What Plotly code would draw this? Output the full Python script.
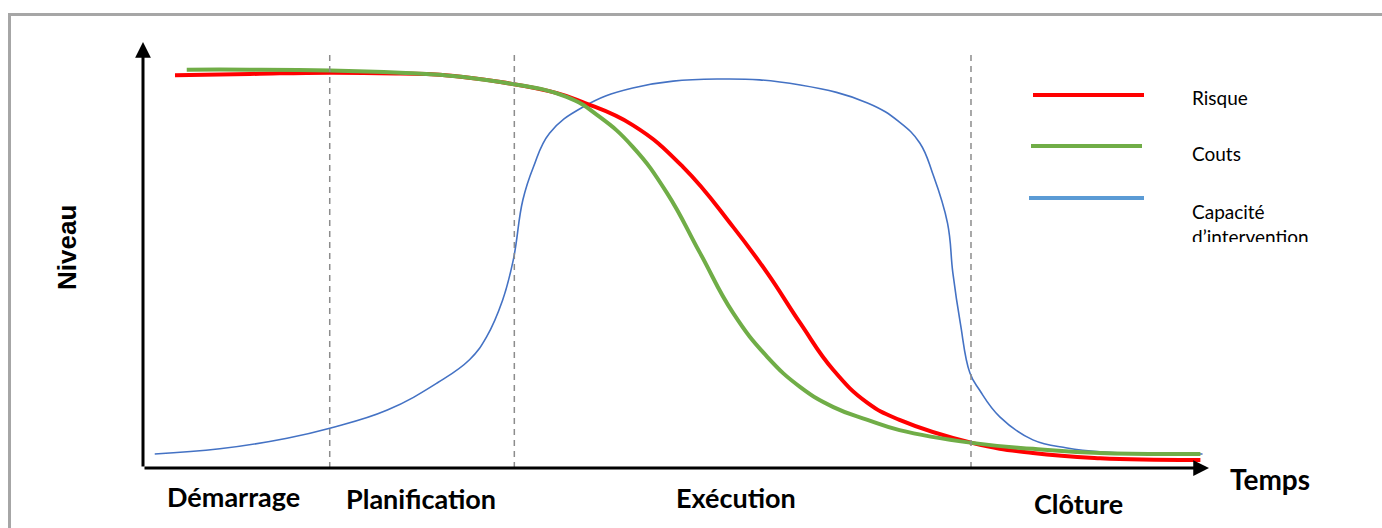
import plotly.graph_objects as go

# --- data -------------------------------------------------------------
# time (0..100) and level (0..100) readings for each curve
t_risque = [3.0, 10.0, 17.5, 24.1, 27.8, 33.5, 38.8, 41.2, 45.9, 50.6, 55.3,
            58.5, 61.6, 64.7, 67.9, 70.9, 77.7, 83.4, 89.7, 99.1]
risque = [92.2, 92.5, 92.8, 92.6, 92.3, 90.6, 88.0, 85.9, 80.5, 70.7, 56.6,
          45.8, 34.0, 23.0, 15.3, 11.3, 5.9, 3.5, 2.3, 1.9]

t_couts = [4.1, 10.0, 17.5, 24.1, 27.8, 33.5, 39.7, 42.8, 45.9, 49.1, 52.2,
           55.3, 58.5, 61.6, 64.7, 67.9, 70.9, 77.7, 83.4, 89.7, 99.1]
couts = [93.5, 93.5, 93.3, 92.8, 92.3, 90.6, 87.1, 82.4, 75.4, 64.6, 50.5,
         36.4, 26.1, 19.0, 14.3, 11.3, 8.9, 5.9, 4.5, 3.5, 3.3]

t_capacite = [1.1, 7.2, 13.5, 17.6, 22.9, 27.6, 30.6, 32.2, 33.7, 34.7, 35.6,
              36.6, 38.1, 41.2, 45.9, 53.8, 61.6, 67.9, 70.9, 72.8, 74.0,
              75.4, 75.9, 76.6, 77.5, 78.4, 80.3, 83.4, 86.6, 89.7, 99.3]
capacite = [3.3, 4.5, 7.0, 9.4, 13.6, 20.0, 25.4, 30.8, 39.4, 48.8, 62.9,
            70.7, 78.6, 84.7, 89.2, 91.3, 89.9, 85.7, 81.2, 76.3, 69.2,
            57.5, 45.8, 34.0, 22.3, 18.3, 12.0, 6.6, 4.7, 3.8, 3.3]

phase_bounds = [17.5, 34.8, 77.6]
phases = ["Démarrage", "Planification", "Exécution", "Clôture"]
series_names = ["Risque", "Couts", "Capacité<br>d’intervention"]

# --- geometry ---------------------------------------------------------
W, H = 1382, 528
X0, Y0 = 143, 468        # pixel position of the axes origin
KX, KY = 10.67, 4.26     # pixels per data unit


def dx(px):
    return (px - X0) / KX


def dy(py):
    return (Y0 - py) / KY


BOLD = "Lato, 'Open Sans', sans-serif"

fig = go.Figure()

fig.add_trace(go.Scatter(x=t_capacite, y=capacite, mode="lines",
                         line=dict(color="#4472C4", width=1.6, shape="spline", smoothing=1.2),
                         hoverinfo="skip"))
fig.add_trace(go.Scatter(x=t_risque, y=risque, mode="lines",
                         line=dict(color="#FF0000", width=4, shape="spline", smoothing=1.3),
                         hoverinfo="skip"))
fig.add_trace(go.Scatter(x=t_couts, y=couts, mode="lines",
                         line=dict(color="#70AD47", width=4, shape="spline", smoothing=1.3),
                         hoverinfo="skip"))

# legend labels (text trace so the last line can be clipped by a mask)
legend_y_px = [100, 156, 227]
fig.add_trace(go.Scatter(x=[dx(1192)] * 3, y=[dy(p) for p in legend_y_px],
                         mode="text", text=series_names, textposition="middle right",
                         textfont=dict(family="Lato, 'Open Sans', sans-serif", size=19, color="#000"),
                         hoverinfo="skip"))

shapes = []
# phase separators
for b in phase_bounds:
    shapes.append(dict(type="line", xref="x", yref="y", x0=b, x1=b, y0=0, y1=dy(52),
                       line=dict(color="#8C8C8C", width=1.5, dash="6px,5px")))
# legend swatches
for (xa, xb, py, col) in [(1033, 1144, 95, "#FF0000"), (1031, 1142, 146, "#70AD47"),
                          (1029, 1144, 198, "#5B9BD5")]:
    shapes.append(dict(type="line", xref="x", yref="y", x0=dx(xa), x1=dx(xb),
                       y0=dy(py), y1=dy(py), line=dict(color=col, width=4)))
# mask that cuts off the second legend line
shapes.append(dict(type="rect", xref="x", yref="y", x0=dx(1180), x1=dx(1340),
                   y0=dy(242), y1=dy(262), fillcolor="white", line=dict(width=0),
                   layer="above"))
# outer frame
shapes.append(dict(type="rect", xref="paper", yref="paper",
                   x0=9.5 / W, x1=1.02, y0=-0.02, y1=1 - 14.5 / H,
                   line=dict(color="#A6A6A6", width=3), fillcolor="rgba(0,0,0,0)"))

annotations = []
# axes with arrow heads
annotations.append(dict(x=0, y=dy(42), ax=0, ay=0, xref="x", yref="y", axref="x", ayref="y",
                        showarrow=True, arrowhead=2, arrowsize=1.05, arrowwidth=3,
                        arrowcolor="#000", text="", standoff=0))
annotations.append(dict(x=dx(1209), y=0, ax=0, ay=0, xref="x", yref="y", axref="x", ayref="y",
                        showarrow=True, arrowhead=2, arrowsize=1.05, arrowwidth=3,
                        arrowcolor="#000", text="", standoff=0))

# phase names
phase_px = [(233, 496), (421, 498), (736, 497), (1078, 503)]
for name, (px, py) in zip(phases, phase_px):
    annotations.append(dict(x=dx(px), y=dy(py), xref="x", yref="y", text=f"<b>{name}</b>",
                            showarrow=False, font=dict(family=BOLD, size=27, color="#000")))
annotations.append(dict(x=dx(1270), y=dy(479), xref="x", yref="y", text="<b>Temps</b>",
                        showarrow=False, font=dict(family=BOLD, size=28, color="#000")))
annotations.append(dict(x=dx(67), y=dy(248), xref="x", yref="y", text="<b>Niveau</b>",
                        textangle=-90, showarrow=False,
                        font=dict(family="'Liberation Sans', Arial, sans-serif", size=26,
                                  color="#000")))

fig.update_layout(
    width=W, height=H, autosize=False,
    margin=dict(l=0, r=0, t=0, b=0),
    paper_bgcolor="white", plot_bgcolor="white",
    showlegend=False,
    xaxis=dict(range=[dx(0), dx(W)], visible=False, fixedrange=True),
    yaxis=dict(range=[dy(H), dy(0)], visible=False, fixedrange=True),
    shapes=shapes, annotations=annotations,
)

fig.write_html("out.html", config={"displayModeBar": False})
